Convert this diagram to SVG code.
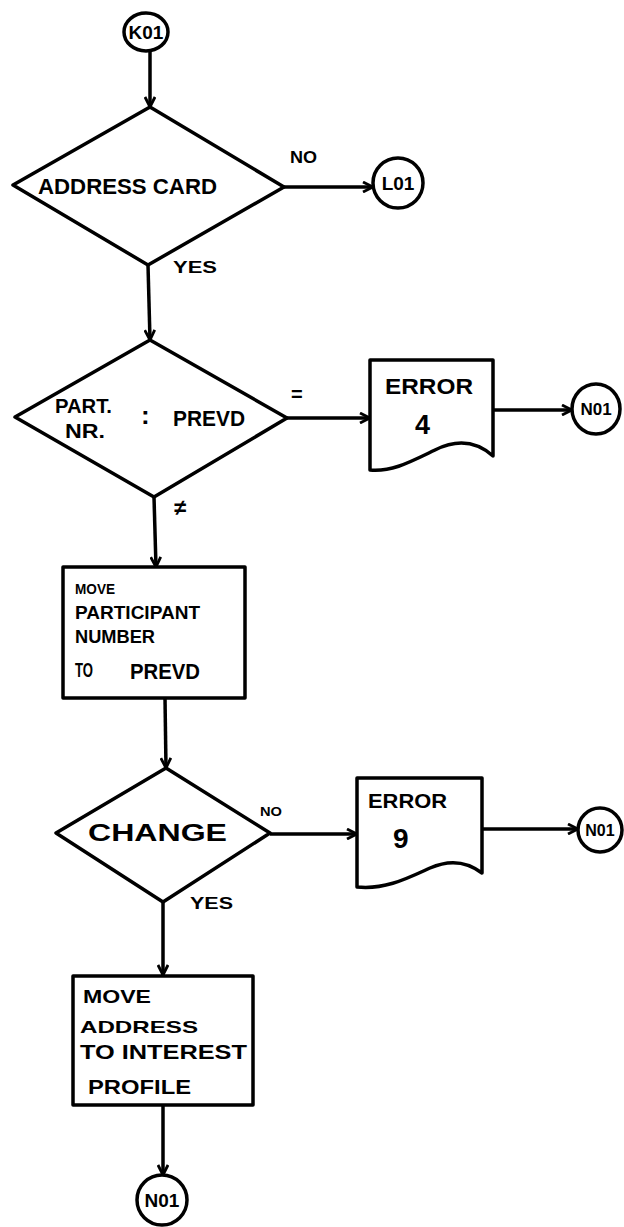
<svg xmlns="http://www.w3.org/2000/svg" width="624" height="1227" viewBox="0 0 624 1227">
<style>
.s{fill:#fff;stroke:#000;stroke-width:3.5;stroke-linejoin:round}
.c{fill:none;stroke:#000;stroke-width:3.5}
text{font-family:"Liberation Sans","DejaVu Sans",sans-serif;font-weight:bold;fill:#000}
.m{text-anchor:middle}
</style>
<defs>
<marker id="ah" viewBox="0 0 12 12" refX="11" refY="6" markerWidth="12" markerHeight="12" orient="auto" markerUnits="userSpaceOnUse">
<path d="M1,1 L11,6 L1,11" fill="none" stroke="#000" stroke-width="2.8"/>
</marker>
</defs>
<rect width="624" height="1227" fill="#fff"/>
<g id="connectors">
<path class="c" d="M150,51 V107" marker-end="url(#ah)"/>
<path class="c" d="M284,187 H373" marker-end="url(#ah)"/>
<path class="c" d="M148,265 L150,340" marker-end="url(#ah)"/>
<path class="c" d="M287,418 H370" marker-end="url(#ah)"/>
<path class="c" d="M493,410 H572" marker-end="url(#ah)"/>
<path class="c" d="M154,497 L156,567" marker-end="url(#ah)"/>
<path class="c" d="M165,698 L166,768" marker-end="url(#ah)"/>
<path class="c" d="M270,834 H357" marker-end="url(#ah)"/>
<path class="c" d="M482,829 H578" marker-end="url(#ah)"/>
<path class="c" d="M163,902 V975" marker-end="url(#ah)"/>
<path class="c" d="M163,1106 V1175" marker-end="url(#ah)"/>
<text x="290" y="163" font-size="16" textLength="27" lengthAdjust="spacingAndGlyphs">NO</text>
<text x="173" y="273" font-size="16" textLength="44" lengthAdjust="spacingAndGlyphs">YES</text>
<text x="291" y="401" font-size="20">=</text>
<text x="174" y="515" font-size="22">≠</text>
<text x="260" y="816" font-size="13" textLength="22" lengthAdjust="spacingAndGlyphs">NO</text>
<text x="190" y="909" font-size="16" textLength="43" lengthAdjust="spacingAndGlyphs">YES</text>
</g>
<g id="k01">
<ellipse class="s" cx="146" cy="32" rx="22" ry="19"/>
<text class="m" x="146" y="39" font-size="19">K01</text>
</g>
<g id="address-card">
<polygon class="s" points="150,107 284,187 148,265 13,185"/>
<text x="38" y="194" font-size="22" textLength="179" lengthAdjust="spacingAndGlyphs">ADDRESS CARD</text>
</g>
<g id="l01">
<circle class="s" cx="398" cy="183" r="25"/>
<text class="m" x="398" y="190" font-size="19">L01</text>
</g>
<g id="part-nr">
<polygon class="s" points="150,340 287,418 154,497 15,417"/>
<text x="55" y="413" font-size="20" textLength="57" lengthAdjust="spacingAndGlyphs">PART.</text>
<text x="65" y="438" font-size="20" textLength="40" lengthAdjust="spacingAndGlyphs">NR.</text>
<text x="141" y="424" font-size="26">:</text>
<text x="173" y="426" font-size="22" textLength="72" lengthAdjust="spacingAndGlyphs">PREVD</text>
</g>
<g id="error4">
<path class="s" d="M370,360 H493 V456 C475,440 455,440 435,450 C410,462 392,472 370,470 Z"/>
<text x="385" y="394" font-size="22" textLength="88" lengthAdjust="spacingAndGlyphs">ERROR</text>
<text x="415" y="434" font-size="27">4</text>
</g>
<g id="n01-a">
<ellipse class="s" cx="596" cy="409" rx="24" ry="25"/>
<text class="m" x="596" y="415" font-size="17">N01</text>
</g>
<g id="move-participant">
<rect class="s" x="63" y="567" width="182" height="131"/>
<text x="75" y="594" font-size="14" textLength="40" lengthAdjust="spacingAndGlyphs">MOVE</text>
<text x="75" y="619" font-size="18" textLength="125" lengthAdjust="spacingAndGlyphs">PARTICIPANT</text>
<text x="75" y="643" font-size="18" textLength="80" lengthAdjust="spacingAndGlyphs">NUMBER</text>
<text x="75" y="677" font-size="20" textLength="18" lengthAdjust="spacingAndGlyphs">TO</text>
<text x="130" y="679" font-size="22" textLength="70" lengthAdjust="spacingAndGlyphs">PREVD</text>
</g>
<g id="change">
<polygon class="s" points="166,768 270,833 163,902 56,833"/>
<text x="88" y="841" font-size="24" textLength="139" lengthAdjust="spacingAndGlyphs">CHANGE</text>
</g>
<g id="error9">
<path class="s" d="M357,778 H482 V873 C465,860 448,860 430,868 C408,878 385,890 357,887 Z"/>
<text x="368" y="808" font-size="21" textLength="79" lengthAdjust="spacingAndGlyphs">ERROR</text>
<text x="393" y="848" font-size="28">9</text>
</g>
<g id="n01-b">
<circle class="s" cx="600" cy="830" r="22"/>
<text class="m" x="600" y="836" font-size="16">N01</text>
</g>
<g id="move-address">
<rect class="s" x="73" y="976" width="180" height="129"/>
<text x="83" y="1003" font-size="19" textLength="68" lengthAdjust="spacingAndGlyphs">MOVE</text>
<text x="80" y="1033" font-size="17" textLength="118" lengthAdjust="spacingAndGlyphs">ADDRESS</text>
<text x="80" y="1059" font-size="20" textLength="167" lengthAdjust="spacingAndGlyphs">TO INTEREST</text>
<text x="88" y="1094" font-size="20" textLength="103" lengthAdjust="spacingAndGlyphs">PROFILE</text>
</g>
<g id="n01-c">
<circle class="s" cx="162" cy="1200" r="25"/>
<text class="m" x="162" y="1207" font-size="19">N01</text>
</g>
</svg>
